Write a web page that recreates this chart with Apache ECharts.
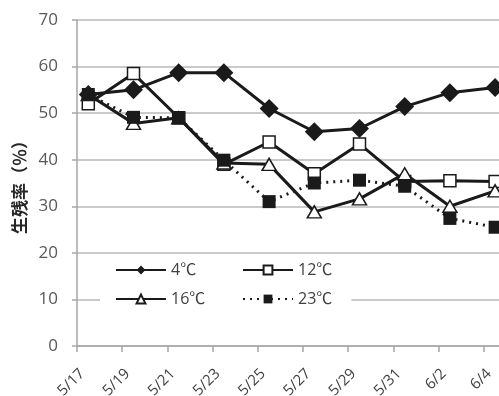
<!DOCTYPE html>
<html>
<head>
<meta charset="utf-8">
<script src="https://cdn.jsdelivr.net/npm/echarts@6/dist/echarts.min.js"></script>
<style>
  html, body { margin: 0; padding: 0; background: #fff; }
  #chart { width: 499px; height: 396px; }
</style>
</head>
<body>
<div id="chart"></div>
<script>
// Observation dates (month/day) and survival rate (%) at each temperature
const dates = ['5/17', '5/19', '5/21', '5/23', '5/25', '5/27', '5/29', '5/31', '6/2', '6/4'];
const tickLabels = ['5/17', '5/19', '5/21', '5/23', '5/25', '5/27', '5/29', '5/31', '6/2', '6/4'];
const seriesNames = ['4℃', '12℃', '16℃', '23℃'];
const rate4 = [54, 55, 58.7, 58.7, 51, 46, 46.7, 51.4, 54.4, 55.5];
const rate12 = [52, 58.5, 49, 39, 43.8, 37, 43.4, 35.3, 35.5, 35.3];
const rate16 = [54, 47.8, 49, 39.3, 39, 28.8, 31.6, 37, 30, 33.3];
const rate23 = [54, 49.1, 49, 39.9, 31, 35, 35.6, 34.3, 27.4, 25.5];

// Readings were taken around midday, half a day after the date's tick
const sampleHour = 12;
function dayNumber(md) {
  const [m, d] = md.split('/').map(Number);
  return (Date.UTC(2000, m - 1, d) - Date.UTC(2000, 4, 17)) / 86400000;
}
function toPoints(values) {
  return values.map((v, i) => [dayNumber(dates[i]) + sampleHour / 24, v]);
}

const ink = '#1a1a1a';
const axisGray = '#a6a6a6';
const font = '"Open Sans", "Noto Sans CJK JP", sans-serif';

const chart = echarts.init(document.getElementById('chart'), null, { renderer: 'canvas' });

const legendText = { fontSize: 16, color: '#404040', fontFamily: font };

chart.setOption({
  animation: false,
  backgroundColor: '#fff',
  grid: { left: 77, right: -30, top: 20, bottom: 50, outerBoundsMode: 'none', containLabel: false },
  xAxis: {
    type: 'value',
    min: 0,
    max: 20,
    interval: 2,
    axisLine: { show: true, lineStyle: { color: axisGray, width: 1.5 } },
    axisTick: { show: true, length: 6, lineStyle: { color: axisGray, width: 1.5 } },
    splitLine: { show: false },
    axisLabel: {
      rotate: 45,
      margin: 20,
      verticalAlign: 'top',
      fontSize: 15,
      color: '#404040',
      fontFamily: font,
      formatter: v => tickLabels[v / 2] || ''
    }
  },
  yAxis: {
    type: 'value',
    min: 0,
    max: 70,
    interval: 10,
    name: '生残率（％）',
    nameLocation: 'middle',
    nameGap: 47,
    nameRotate: 90,
    nameTextStyle: { fontSize: 17, fontWeight: 'bold', color: '#262626', fontFamily: '"Noto Sans CJK JP", sans-serif' },
    axisLine: { show: true, lineStyle: { color: axisGray, width: 1.5 } },
    axisTick: { show: true, length: 5, lineStyle: { color: axisGray, width: 1.5 } },
    splitLine: { show: true, lineStyle: { color: '#b9b9b9', width: 1.5 } },
    axisLabel: { margin: 19, fontSize: 17, color: '#595959', fontFamily: font }
  },
  legend: [
    {
      data: [seriesNames[0], seriesNames[2]],
      orient: 'vertical',
      left: 100,
      top: 255,
      padding: [7, 31, 7, 15],
      itemWidth: 50,
      itemHeight: 11,
      itemGap: 13,
      backgroundColor: '#fff',
      textStyle: legendText
    },
    {
      data: [seriesNames[1], seriesNames[3]],
      orient: 'vertical',
      left: 232,
      top: 255,
      padding: [7, 19, 7, 10],
      itemWidth: 50,
      itemHeight: 11,
      itemGap: 13,
      backgroundColor: '#fff',
      textStyle: legendText
    }
  ],
  series: [
    {
      name: seriesNames[0],
      type: 'line',
      data: toPoints(rate4),
      symbol: 'diamond',
      symbolSize: 19,
      lineStyle: { color: ink, width: 3 },
      itemStyle: { color: ink, borderColor: ink, borderWidth: 0 }
    },
    {
      name: seriesNames[1],
      type: 'line',
      data: toPoints(rate12),
      symbol: 'rect',
      symbolSize: 12,
      lineStyle: { color: ink, width: 3 },
      itemStyle: { color: '#fff', borderColor: ink, borderWidth: 1.5 }
    },
    {
      name: seriesNames[2],
      type: 'line',
      data: toPoints(rate16),
      symbol: 'triangle',
      symbolSize: [14, 12],
      lineStyle: { color: ink, width: 3 },
      itemStyle: { color: '#fff', borderColor: ink, borderWidth: 1.5 }
    },
    {
      name: seriesNames[3],
      type: 'line',
      data: toPoints(rate23),
      symbol: 'rect',
      symbolSize: 13,
      lineStyle: { color: ink, width: 3, type: [2, 5] },
      itemStyle: { color: ink, borderColor: ink, borderWidth: 0 }
    }
  ]
});
</script>
</body>
</html>
